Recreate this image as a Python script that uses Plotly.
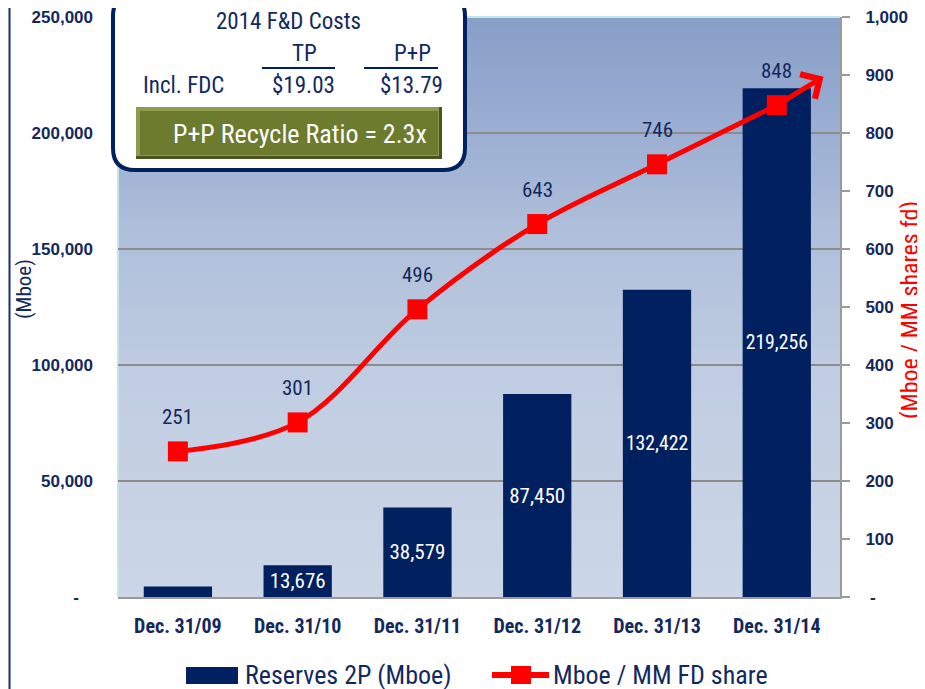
import plotly.graph_objects as go

# ---------------- data ----------------
categories = ["Dec. 31/09", "Dec. 31/10", "Dec. 31/11", "Dec. 31/12", "Dec. 31/13", "Dec. 31/14"]
reserves_2p = [4500, 13676, 38579, 87450, 132422, 219256]
reserves_labels = ["", "13,676", "38,579", "87,450", "132,422", "219,256"]
mboe_per_share = [251, 301, 496, 643, 746, 848]
mboe_labels = ["251", "301", "496", "643", "746", "848"]
arrow_head = (5.39, 897)  # trend arrow tip (category position, Mboe / MM share)

left_tickvals = [0, 50000, 100000, 150000, 200000, 250000]
left_ticktext = ["-\u00a0\u00a0\u00a0", "50,000", "100,000", "150,000", "200,000", "250,000"]
right_tickvals = [0, 100, 200, 300, 400, 500, 600, 700, 800, 900, 1000]
right_ticktext = ["\u00a0-", "100", "200", "300", "400", "500", "600", "700", "800", "900", "1,000"]

box_title = "2014 F&D Costs"
box_cols = ["TP", "P+P"]
box_row_label = "Incl. FDC"
box_values = ["$19.03", "$13.79"]
box_ratio = "P+P Recycle Ratio = 2.3x"

legend_bar = "Reserves 2P (Mboe)"
legend_line = "Mboe / MM FD share"

# ---------------- style ----------------
W, H = 925, 689
OFF = 8                      # page offset of the figure (body margin)
PL, PR, PT, PB = 118, 840, 17, 597   # plot area in page pixels
ML, MT = PL - OFF, PT - OFF
MR, MB = W - (PR - OFF), H - (PB - OFF)
PW, PH = PR - PL, PB - PT
NAVY = "#002060"
TXT = "#13295e"
RED = "#ff0000"
NARROW = "Liberation Sans Narrow, Arial Narrow, Roboto Condensed, DejaVu Sans Condensed, sans-serif"
ARIAL = "Liberation Sans, Arial, sans-serif"


def px(x):
    return (x - PL) / PW


def py(y):
    return (PB - y) / PH


fig = go.Figure()

fig.add_trace(go.Bar(
    x=categories, y=reserves_2p, text=reserves_labels,
    textposition="inside", insidetextanchor="middle", textangle=0,
    textfont=dict(family=NARROW, size=21, color="white"),
    marker=dict(color=NAVY, line=dict(width=0)),
    name=legend_bar, showlegend=False, cliponaxis=False,
))

fig.add_trace(go.Scatter(
    x=categories, y=mboe_per_share, yaxis="y2", mode="lines+markers",
    line=dict(color=RED, width=5, shape="spline", smoothing=1.0),
    marker=dict(symbol="square", size=20, color=RED),
    name=legend_line, showlegend=False,
))

shapes = []
# background gradient inside plot area
stops = [(17, (135, 158, 198)), (100, (150, 170, 208)), (240, (176, 192, 219)),
         (400, (194, 206, 226)), (597, (203, 214, 230))]


def col_at(y):
    for (y0, c0), (y1, c1) in zip(stops[:-1], stops[1:]):
        if y0 <= y <= y1:
            t = (y - y0) / (y1 - y0)
            return "rgb(%d,%d,%d)" % tuple(round(a + (b - a) * t) for a, b in zip(c0, c1))
    return "rgb(203,214,230)"


N = 58
for i in range(N):
    y0 = PT + PH * i / N
    y1 = PT + PH * (i + 1) / N
    shapes.append(dict(type="rect", xref="paper", yref="paper", x0=0, x1=1,
                       y0=py(y1) - 0.001, y1=py(y0), fillcolor=col_at((y0 + y1) / 2),
                       line=dict(width=0), layer="below"))
# light cyan plot edges
shapes.append(dict(type="line", xref="paper", yref="paper", x0=0, x1=1, y0=1, y1=1,
                   line=dict(color="#c8e4e6", width=2), layer="below"))
shapes.append(dict(type="line", xref="paper", yref="paper", x0=0, x1=0, y0=0, y1=1,
                   line=dict(color="#c8e4e6", width=2), layer="below"))
# left page rule
shapes.append(dict(type="line", xref="paper", yref="paper", x0=px(9.5), x1=px(9.5),
                   y0=py(H + 10), y1=py(0), line=dict(color="#1b2f6b", width=2), layer="below"))

# rounded info box
bx0, bx1, by0, by1, r = 113, 465, -6, 170, 22


def P(x, y):
    return "%.5f,%.5f" % (px(x), py(y))


path = ("M" + P(bx0 + r, by0) + " L" + P(bx1 - r, by0) + " Q" + P(bx1, by0) + " " + P(bx1, by0 + r) +
        " L" + P(bx1, by1 - r) + " Q" + P(bx1, by1) + " " + P(bx1 - r, by1) +
        " L" + P(bx0 + r, by1) + " Q" + P(bx0, by1) + " " + P(bx0, by1 - r) +
        " L" + P(bx0, by0 + r) + " Q" + P(bx0, by0) + " " + P(bx0 + r, by0) + " Z")
shapes.append(dict(type="path", xref="paper", yref="paper", path=path,
                   fillcolor="white", line=dict(color=NAVY, width=4), layer="above"))
# underlines
for x0, x1 in [(262, 335), (364, 438)]:
    shapes.append(dict(type="line", xref="paper", yref="paper", x0=px(x0), x1=px(x1),
                       y0=py(68), y1=py(68), line=dict(color=NAVY, width=2), layer="above"))
# green bevel button
shapes.append(dict(type="rect", xref="paper", yref="paper", x0=px(136), x1=px(442),
                   y0=py(159), y1=py(107), fillcolor="#4a5420", line=dict(width=0), layer="above"))
shapes.append(dict(type="rect", xref="paper", yref="paper", x0=px(136), x1=px(439),
                   y0=py(156), y1=py(107), fillcolor="#8c9b4e", line=dict(width=0), layer="above"))
shapes.append(dict(type="rect", xref="paper", yref="paper", x0=px(140), x1=px(438),
                   y0=py(155), y1=py(111), fillcolor="#6c7b2e", line=dict(width=0), layer="above"))

# manual legend
shapes.append(dict(type="rect", xref="paper", yref="paper", x0=px(186), x1=px(238),
                   y0=py(684), y1=py(667), fillcolor=NAVY, line=dict(width=0)))
shapes.append(dict(type="line", xref="paper", yref="paper", x0=px(492), x1=px(549),
                   y0=py(675), y1=py(675), line=dict(color=RED, width=6)))
shapes.append(dict(type="rect", xref="paper", yref="paper", x0=px(511), x1=px(531),
                   y0=py(684), y1=py(666), fillcolor=RED, line=dict(width=0)))

annotations = []
# line value labels
for c, v, t in zip(categories, mboe_per_share, mboe_labels):
    annotations.append(dict(x=c, y=v, xref="x", yref="y2", text=t, showarrow=False,
                            yshift=34, font=dict(family=NARROW, size=21, color=TXT)))
# trend arrow
annotations.append(dict(x=arrow_head[0], y=arrow_head[1], xref="x", yref="y2",
                        ax=5, ay=mboe_per_share[-1], axref="x", ayref="y2", text="",
                        showarrow=True, arrowhead=4, arrowsize=1.1, arrowwidth=5,
                        arrowcolor=RED, standoff=0, startstandoff=0))


def ptext(x, y, text, size, color=TXT, family=NARROW, anchor="center", **kw):
    annotations.append(dict(x=px(x), y=py(y), xref="paper", yref="paper", text=text,
                            showarrow=False, xanchor=anchor, yanchor="middle",
                            font=dict(family=family, size=size, color=color), **kw))


ptext(288, 21, box_title, 23)
ptext(304, 53, box_cols[0], 23)
ptext(412, 53, box_cols[1], 23)
ptext(183, 85, box_row_label, 23)
ptext(303, 85, box_values[0], 23)
ptext(411, 85, box_values[1], 23)
ptext(300, 134, box_ratio, 26, color="white")
ptext(24, 289, "(Mboe)", 21, textangle=-90)
ptext(910, 310, "(Mboe / MM shares fd)", 24, color=RED, textangle=-90)
ptext(243, 675, legend_bar, 26, anchor="left")
ptext(551, 675, legend_line, 26, anchor="left")

fig.update_layout(
    width=W, height=H,
    margin=dict(l=ML, r=MR, t=MT, b=MB, pad=0, autoexpand=False),
    paper_bgcolor="white", plot_bgcolor="#cbd5e5",
    bargap=0.43, showlegend=False,
    shapes=shapes, annotations=annotations,
    xaxis=dict(type="category", tickfont=dict(family=NARROW, size=20, color=TXT, weight="bold"),
               showgrid=False, showline=True, linecolor="#9a9a9a", linewidth=2,
               ticks="", ticklabelstandoff=10, zeroline=False, automargin=False),
    yaxis=dict(range=[0, 250000], tickvals=left_tickvals, ticktext=left_ticktext,
               tickfont=dict(family=ARIAL, size=17, color=TXT, weight="bold"),
               showgrid=True, gridcolor="#8c8c8c", gridwidth=2, zeroline=False,
               showline=False, ticks="", ticklabelstandoff=24, ticklabeloverflow="allow",
               automargin=False),
    yaxis2=dict(range=[0, 1000], overlaying="y", side="right", tickvals=right_tickvals,
                ticktext=right_ticktext, showgrid=False, zeroline=False,
                tickfont=dict(family=ARIAL, size=17, color=TXT, weight="bold"),
                showline=True, linecolor="#9a9a9a", linewidth=2,
                ticks="outside", ticklen=8, tickwidth=2, tickcolor="#9a9a9a",
                ticklabelstandoff=12, ticklabeloverflow="allow", automargin=False),
)

fig.write_html("out.html")
